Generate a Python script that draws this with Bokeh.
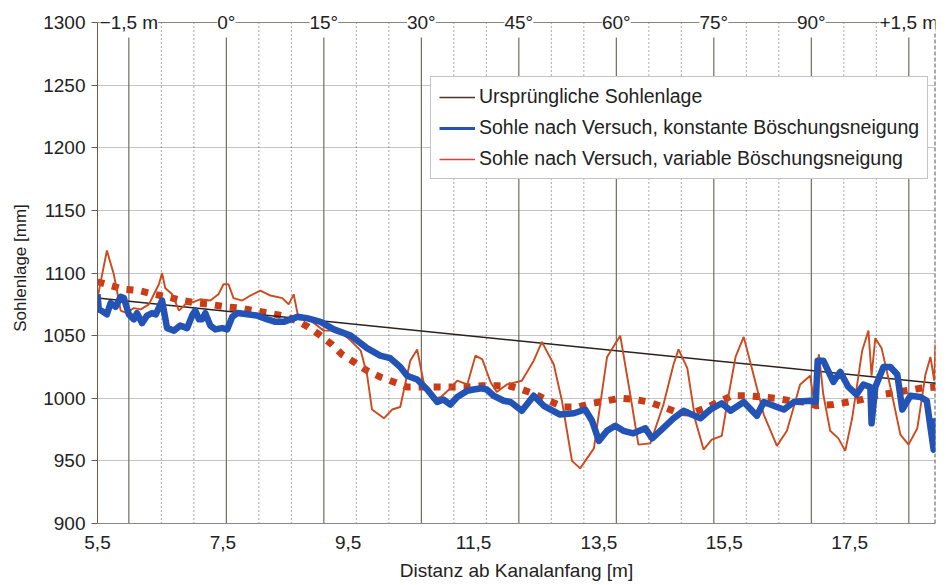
import numpy as np
from bokeh.plotting import figure
from bokeh.models import (Range1d, FixedTicker, Legend, LegendItem,
                          ColumnDataSource, LabelSet)
from bokeh.core.properties import value
from bokeh.embed import file_html
from bokeh.resources import INLINE

# ---------------- data ----------------
x_min, x_max = 5.5, 18.87
y_min, y_max = 900, 1300
y_top_room = 1308   # a little room above 1300 so the profile labels can sit on the top line

orig_x = [5.5, 18.87]
orig_y = [1080, 1012]

const_x = [5.5, 5.52, 5.56, 5.65, 5.71, 5.79, 5.87, 5.92, 6.0, 6.08, 6.13, 6.21, 6.29, 6.37, 6.43,
           6.53, 6.61, 6.72, 6.82, 6.93, 7.01, 7.06, 7.12, 7.17, 7.22, 7.30, 7.38, 7.49, 7.57, 7.65,
           7.73, 7.89, 8.05, 8.21, 8.34, 8.47, 8.58, 8.69, 8.84, 9.06, 9.27, 9.54, 9.80, 10.01, 10.17,
           10.33, 10.44, 10.60, 10.76, 10.92, 11.02, 11.13, 11.24, 11.40, 11.50, 11.63, 11.71, 11.82,
           11.98, 12.09, 12.27, 12.46, 12.62, 12.88, 13.10, 13.28, 13.39, 13.50, 13.63, 13.76, 13.89,
           14.05, 14.24, 14.35, 14.50, 14.69, 14.85, 14.98, 15.12, 15.28, 15.46, 15.60, 15.81, 16.02,
           16.13, 16.34, 16.45, 16.61, 16.87, 16.96, 16.99, 17.08, 17.24, 17.35, 17.48, 17.61, 17.72,
           17.83, 17.85, 17.91, 18.04, 18.15, 18.26, 18.34, 18.47, 18.63, 18.73, 18.84, 18.87]
const_y = [1083, 1071, 1070, 1067, 1076, 1073, 1081, 1080, 1067, 1063, 1068, 1060, 1066, 1068, 1067,
           1078, 1056, 1054, 1058, 1056, 1066, 1070, 1063, 1063, 1068, 1058, 1055, 1056, 1055, 1065,
           1068, 1067, 1066, 1063, 1061, 1061, 1063, 1065, 1064, 1061, 1055, 1050, 1040, 1034, 1032,
           1025, 1018, 1015, 1007, 997, 999, 995, 1001, 1006, 1007, 1008, 1007, 1002,
           998, 997, 990, 1002, 994, 987, 988, 991, 982, 966, 974, 978, 974,
           972, 976, 968, 975, 984, 990, 987, 984, 991, 996, 990, 997, 986,
           997, 993, 991, 997, 998, 997, 1030, 1030, 1013, 1021, 1009, 1003, 1011,
           1009, 980, 1009, 1025, 1025, 1019, 991, 1002, 1001, 998, 959, 984]

var_x = [5.5, 5.65, 5.76, 5.87, 5.97, 6.08, 6.19, 6.32, 6.43, 6.48, 6.53, 6.58, 6.69, 6.80, 6.90,
         6.98, 7.14, 7.30, 7.43, 7.51, 7.59, 7.67, 7.81, 7.94, 8.10, 8.26, 8.45, 8.55, 8.63, 8.71,
         8.90, 9.11, 9.35, 9.54, 9.70, 9.80, 9.88, 10.07, 10.20, 10.33, 10.49, 10.60, 10.71, 10.84,
         10.98, 11.11, 11.24, 11.40, 11.53, 11.64, 11.77, 11.87, 12.03, 12.27, 12.46, 12.59, 12.78,
         12.91, 13.07, 13.20, 13.42, 13.63, 13.84, 14.00, 14.13, 14.32, 14.53, 14.69, 14.77, 14.91,
         15.04, 15.17, 15.30, 15.46, 15.56, 15.68, 15.81, 15.94, 16.13, 16.34, 16.50, 16.71, 16.87,
         16.93, 17.01, 17.08, 17.19, 17.32, 17.43, 17.54, 17.70, 17.80, 17.85, 17.91, 18.01, 18.15,
         18.31, 18.44, 18.58, 18.71, 18.79, 18.85, 18.87]
var_y = [1080, 1118, 1099, 1070, 1068, 1072, 1071, 1075, 1086, 1091, 1100, 1088, 1083, 1070, 1075,
         1076, 1079, 1078, 1083, 1091, 1091, 1080, 1078, 1082, 1086, 1082, 1080, 1075, 1083, 1063,
         1062, 1054, 1054, 1046, 1038, 1019, 991, 984, 991, 993, 1030, 1039, 1011, 999,
         1001, 1007, 1014, 1011, 1034, 1031, 1013, 1005, 1011, 1014, 1030, 1045, 1027,
         998, 950, 944, 960, 1033, 1050, 1003, 963, 964, 995, 1027, 1039, 1024,
         982, 959, 967, 970, 1000, 1033, 1049, 1024, 987, 962, 974, 1011, 1018,
         998, 1035, 1003, 974, 968, 958, 984, 1038, 1054, 1018, 1048, 1040, 1009,
         971, 963, 976, 1019, 1033, 1014, 1043]

trend_x = [5.5, 5.71, 5.92, 6.16, 6.40, 6.61, 6.85, 7.09, 7.30, 7.54, 7.78, 7.99, 8.23, 8.45, 8.68,
           8.86, 9.06, 9.24, 9.40, 9.59, 9.80, 10.01, 10.23, 10.44, 10.68, 10.92, 11.16, 11.40,
           11.63, 11.85, 12.06, 12.27, 12.49, 12.70, 12.94, 13.16, 13.39, 13.63, 13.84, 14.08,
           14.29, 14.53, 14.74, 14.98, 15.19, 15.41, 15.62, 15.86, 16.10, 16.31, 16.55, 16.76,
           16.98, 17.24, 17.48, 17.70, 17.91, 18.15, 18.39, 18.63, 18.87]
trend_y = [1093, 1090, 1087, 1086, 1083, 1081, 1078, 1076, 1075, 1073, 1072, 1070, 1068, 1066, 1062,
           1057, 1050, 1043, 1035, 1029, 1022, 1017, 1013, 1009, 1009, 1009, 1009, 1009,
           1010, 1010, 1010, 1007, 1003, 998, 993, 993, 996, 998, 1000, 999,
           997, 993, 989, 988, 992, 997, 1002, 1002, 1001, 1000, 998, 997,
           994, 995, 997, 999, 1002, 1004, 1006, 1008, 1009]

profile_x = [6.0, 7.556, 9.111, 10.667, 12.222, 13.778, 15.333, 16.889, 18.444]
profile_labels = ["\u22121,5 m", "0°", "15°", "30°", "45°", "60°", "75°", "90°", "+1,5 m"]

x_ticks = [5.5, 7.5, 9.5, 11.5, 13.5, 15.5, 17.5]
x_tick_labels = ["5,5", "7,5", "9,5", "11,5", "13,5", "15,5", "17,5"]
y_ticks = [900, 950, 1000, 1050, 1100, 1150, 1200, 1250, 1300]

legend_labels = ["Ursprüngliche Sohlenlage",
                 "Sohle nach Versuch, konstante Böschungsneigung",
                 "Sohle nach Versuch, variable Böschungsneigung"]

# ---------------- styles ----------------
FONT = "Liberation Sans"
C_ORIG = "#2b211d"
C_BLUE = "#2353b5"
C_RED = "#cc4a1c"
C_TREND = "#c93c16"

p = figure(width=940, height=583, output_backend="svg", toolbar_location=None,
           x_range=Range1d(x_min, x_max), y_range=Range1d(y_min, y_top_room),
           min_border_left=97, min_border_right=5, min_border_top=12, min_border_bottom=50)
p.background_fill_color = "white"
p.border_fill_color = "white"
p.outline_line_color = None

# grid
p.xgrid.visible = False
p.ygrid.ticker = FixedTicker(ticks=y_ticks)
p.ygrid.grid_line_color = "#c4c4c4"
p.ygrid.grid_line_width = 1

# vertical 5-degree dotted lines between profile lines
dot_x = []
for a, b in zip(profile_x[:-1], profile_x[1:]):
    d = (b - a) / 3.0
    dot_x += [a + d, a + 2 * d]
p.segment(x0=dot_x, y0=[y_min] * len(dot_x), x1=dot_x, y1=[y_max] * len(dot_x),
          line_color="#555555", line_width=1, line_dash="1 3")
# solid profile lines
p.segment(x0=profile_x, y0=[y_min] * len(profile_x), x1=profile_x,
          y1=[y_max - 12] * len(profile_x), line_color="#6d6d62", line_width=1.2)
# right border (dashed)
p.segment(x0=[x_max], y0=[y_min], x1=[x_max], y1=[y_max],
          line_color="#555555", line_width=2, line_dash="4 2")
# top line
p.segment(x0=[x_min], y0=[y_max], x1=[x_max], y1=[y_max],
          line_color="#8c8480", line_width=1)

# data lines
r_trend = p.line(trend_x, trend_y, line_color=C_TREND, line_width=7, line_dash="7 8",
                 line_cap="butt")
r_orig = p.line(orig_x, orig_y, line_color=C_ORIG, line_width=1.5)
r_var = p.line(var_x, var_y, line_color=C_RED, line_width=1.9)
r_const = p.line(const_x, const_y, line_color=C_BLUE, line_width=6.5, line_join="round")

# legend proxies (thinner glyphs as in the original legend); one point -> nothing drawn
l_orig = p.line(orig_x[:1], orig_y[:1], line_color="#4a3328", line_width=1.5)
l_const = p.line(const_x[:1], const_y[:1], line_color=C_BLUE, line_width=3.2)
l_var = p.line(var_x[:1], var_y[:1], line_color="#e0403a", line_width=1.6)

legend = Legend(items=[LegendItem(label=legend_labels[0], renderers=[l_orig]),
                       LegendItem(label=legend_labels[1], renderers=[l_const]),
                       LegendItem(label=legend_labels[2], renderers=[l_var])],
                location=(333, 344), margin=0, padding=8, spacing=8,
                glyph_width=36, glyph_height=20, label_standoff=4,
                label_text_font=FONT, label_text_font_size="19.5px",
                label_text_color="#222222",
                border_line_color="#8a8a8a", border_line_width=1,
                background_fill_color="white", background_fill_alpha=1)
p.add_layout(legend)

# top profile labels
src = ColumnDataSource(dict(x=profile_x, y=[y_max] * len(profile_x), t=profile_labels))
p.add_layout(LabelSet(x="x", y="y", text="t", source=src, text_align="center",
                      text_baseline="middle", text_font=value(FONT),
                      text_font_size=value("19px"),
                      text_color="#222222", background_fill_color="white",
                      background_fill_alpha=1))

# axes
p.xaxis.ticker = FixedTicker(ticks=x_ticks)
p.xaxis.major_label_overrides = {t: s for t, s in zip(x_ticks, x_tick_labels)}
p.xaxis.major_tick_out = 0
p.xaxis.major_tick_in = 0
p.xaxis.minor_tick_line_color = None
p.xaxis.axis_line_color = "#888888"
p.xaxis.major_label_text_font = FONT
p.xaxis.major_label_text_font_size = "19px"
p.xaxis.major_label_text_color = "#222222"
p.xaxis.major_label_standoff = 12
p.xaxis.axis_label = "Distanz ab Kanalanfang [m]"
p.xaxis.axis_label_text_font = FONT
p.xaxis.axis_label_text_font_size = "19px"
p.xaxis.axis_label_text_font_style = "normal"
p.xaxis.axis_label_text_color = "#222222"
p.xaxis.axis_label_standoff = 8

p.yaxis.ticker = FixedTicker(ticks=y_ticks)
p.yaxis.bounds = (y_min, y_max)
p.yaxis.major_tick_out = 6
p.yaxis.major_tick_in = 0
p.yaxis.minor_tick_line_color = None
p.yaxis.axis_line_color = "#6b5a52"
p.yaxis.major_tick_line_color = "#6b5a52"
p.yaxis.major_label_text_font = FONT
p.yaxis.major_label_text_font_size = "19px"
p.yaxis.major_label_text_color = "#222222"
p.yaxis.major_label_standoff = 6
p.yaxis.axis_label = "Sohlenlage [mm]"
p.yaxis.axis_label_text_font = FONT
p.yaxis.axis_label_text_font_size = "17px"
p.yaxis.axis_label_text_font_style = "normal"
p.yaxis.axis_label_text_color = "#222222"
p.yaxis.axis_label_standoff = 10

open("out.html", "w").write(file_html(p, INLINE))
